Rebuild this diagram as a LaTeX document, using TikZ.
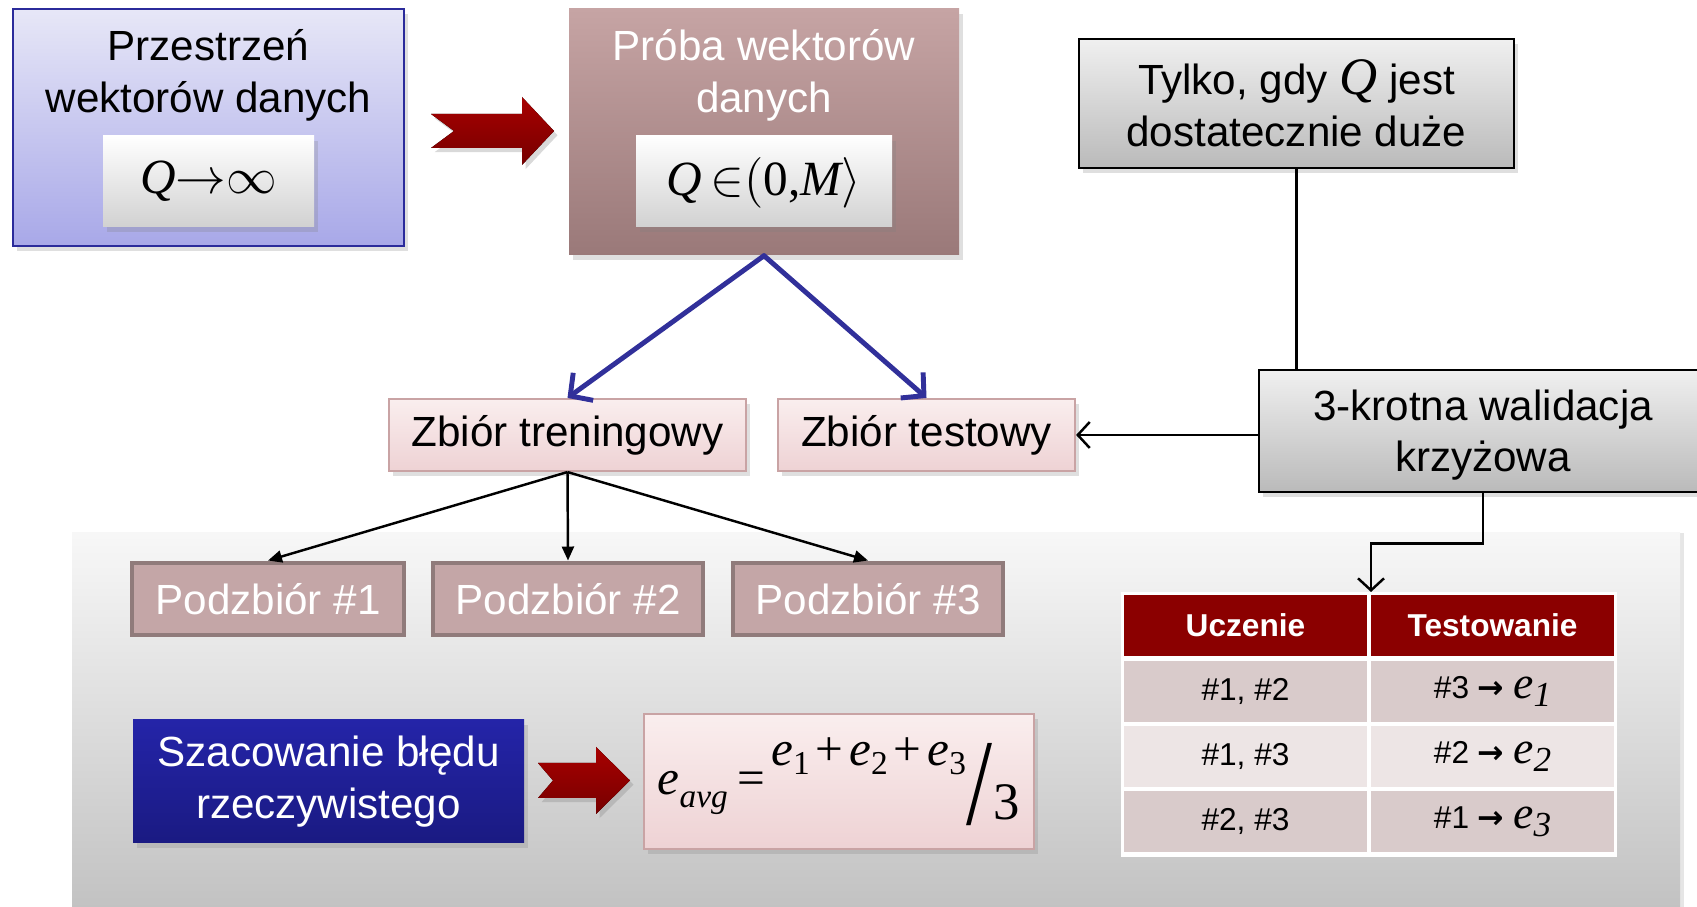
\documentclass[tikz,border=0pt]{standalone}
\usepackage{fontspec}
\setmainfont{Liberation Sans}
\newfontfamily\tms{Liberation Serif}
\newfontfamily\djv{DejaVu Sans}
\usepackage{graphicx}
\usetikzlibrary{positioning,arrows.meta,shadows}
\definecolor{spacetop}{RGB}{231,231,247}
\definecolor{spacebot}{RGB}{168,168,232}
\definecolor{spaceline}{RGB}{43,43,155}
\definecolor{sampletop}{RGB}{198,164,164}
\definecolor{samplebot}{RGB}{154,121,121}
\definecolor{pinktop}{RGB}{250,238,238}
\definecolor{pinkbot}{RGB}{238,210,212}
\definecolor{pinkline}{RGB}{201,163,164}
\definecolor{subfill}{RGB}{196,166,167}
\definecolor{subline}{RGB}{144,123,123}
\definecolor{esttop}{RGB}{36,36,168}
\definecolor{estbot}{RGB}{26,26,130}
\definecolor{darkred}{RGB}{139,0,0}
\definecolor{arrowtop}{RGB}{168,0,0}
\definecolor{arrowbot}{RGB}{118,0,0}
\definecolor{rowdark}{RGB}{217,203,203}
\definecolor{rowlight}{RGB}{237,229,229}
\definecolor{splitblue}{RGB}{49,48,154}
\newcommand\ti[1]{{\tms\itshape #1}}
\newcommand\toarr{{\djv\bfseries →}}

\begin{document}
\begin{tikzpicture}[x=1cm,y=1cm,>=Latex]
  \tikzset{
    box/.style={rectangle,inner sep=0pt,align=center,font=\fontsize{12}{14.7}\selectfont},
    soft/.style={drop shadow={shadow xshift=1.2pt,shadow yshift=-1.5pt,opacity=0.25}},
    spacebox/.style={box,soft,top color=spacetop,bottom color=spacebot,draw=spaceline,line width=0.8pt},
    samplebox/.style={box,soft,top color=sampletop,bottom color=samplebot},
    mathbox/.style={box,soft,top color=white,bottom color=black!18,font=\tms\fontsize{14}{17}\selectfont},
    graybox/.style={box,soft,top color=black!6,bottom color=black!27,draw=black,line width=0.8pt},
    pinkbox/.style={box,soft,top color=pinktop,bottom color=pinkbot,draw=pinkline,line width=0.6pt},
    subbox/.style={box,fill=subfill,draw=subline,line width=1.4pt,text=white},
    estbox/.style={box,soft,top color=esttop,bottom color=estbot,text=white},
    title/.style={box},
    cell/.style={rectangle,inner sep=0pt,minimum width=2.43cm,minimum height=0.61cm,font=\fontsize{9}{11}\selectfont},
    headcell/.style={cell,fill=darkred,text=white,font=\bfseries\fontsize{9}{11}\selectfont},
    bigarrow/.style={top color=arrowtop,bottom color=arrowbot,
      drop shadow={shadow xshift=1pt,shadow yshift=-1.2pt,opacity=0.3}},
    split/.style={draw=splitblue,line width=1.4pt,line cap=round,
      -{Straight Barb[length=1.6mm,width=3.4mm,line width=1.4pt]}},
    feed/.style={draw=black,line width=0.7pt,-{Triangle[length=1.4mm,width=1.2mm]}},
    link/.style={draw=black,line width=0.7pt},
    linkto/.style={link,-{Straight Barb[length=1.2mm,width=2.6mm]}},
  }
  \useasboundingbox (0,0) rectangle (16.97,9.07);

  % grey panel behind the folds
  \path[top color=black!3,bottom color=black!25,
    drop shadow={shadow xshift=1pt,shadow yshift=0pt,opacity=0.2}]
    (0.72,3.74) rectangle (16.80,-0.2);

  % top row
  \node[spacebox,minimum width=3.91cm,minimum height=2.37cm] (space) at (2.085,7.795) {};
  \node[title] (spacettl) at (2.085,8.315) {Przestrzeń\\wektorów danych};
  \node[mathbox,minimum width=2.11cm,minimum height=0.91cm] (spacemath) at (2.085,7.255)
    {\ti{Q}$\rightarrow$$\infty$};

  \fill[bigarrow] (4.31,7.93) -- (5.22,7.93) -- (5.22,8.10) -- (5.54,7.76) -- (5.22,7.42)
    -- (5.22,7.59) -- (4.31,7.59) -- (4.54,7.76) -- cycle;

  \node[samplebox,minimum width=3.90cm,minimum height=2.46cm] (sample) at (7.64,7.75) {};
  \node[title,text=white] (samplettl) at (7.64,8.315) {Próba wektorów\\danych};
  \node[mathbox,minimum width=2.56cm,minimum height=0.91cm] (samplemath) at (7.64,7.255)
    {\ti{Q}\,$\in$$\Big($0,\ti{M}$\Big\rangle$};

  \node[graybox,minimum width=4.35cm,minimum height=1.29cm] (cond) at (12.965,8.035)
    {Tylko, gdy {\fontsize{15}{15}\selectfont\ti{Q}} jest\\dostatecznie duże};
  \node[graybox,minimum width=4.41cm,minimum height=1.22cm] (cv) at (14.795,4.76) {};
  \node[title] (cvttl) at (14.83,4.72) {3-krotna walidacja\\krzyżowa};

  % split of the sample
  \node[pinkbox,minimum width=3.57cm,minimum height=0.72cm] (train) at (5.675,4.72) {Zbiór treningowy};
  \node[pinkbox,minimum width=2.97cm,minimum height=0.72cm] (test) at (9.265,4.72) {Zbiór testowy};

  \draw[split] (sample.south) -- (train.north);
  \draw[split] (sample.south) -- (test.north);
  \draw[link] (cond.south) -- (cond.south |- cv.north);
  \draw[linkto] (cv.west |- test.east) -- (test.east);

  % folds
  \node[subbox,minimum width=2.72cm,minimum height=0.72cm] (sub1) at (2.68,3.08) {Podzbiór \#1};
  \node[subbox,minimum width=2.70cm,minimum height=0.72cm] (sub2) at (5.68,3.08) {Podzbiór \#2};
  \node[subbox,minimum width=2.70cm,minimum height=0.72cm] (sub3) at (8.68,3.08) {Podzbiór \#3};

  \draw[feed] (train.south) -- (sub1.north);
  \draw[feed] (train.south) -- (sub2.north);
  \draw[feed] (train.south) -- (sub3.north);

  % error estimate
  \node[estbox,minimum width=3.91cm,minimum height=1.23cm] (est) at (3.285,1.255)
    {Szacowanie błędu\\rzeczywistego};
  \fill[bigarrow] (5.38,1.44) -- (5.96,1.44) -- (5.96,1.60) -- (6.30,1.265) -- (5.96,0.93)
    -- (5.96,1.09) -- (5.38,1.09) -- (5.53,1.265) -- cycle;
  \node[pinkbox,minimum width=3.90cm,minimum height=1.35cm,font=\tms\fontsize{14}{17}\selectfont] (avg) at (8.39,1.255)
    {\ti{e}\raisebox{-0.55ex}{\fontsize{9.5}{10}\selectfont\ti{avg}}\hspace{0.2em}=\hspace{0.12em}%
     \raisebox{0.6em}{\ti{e}\raisebox{-0.4ex}{\fontsize{9.5}{10}\selectfont 1}\hspace{0.12em}+\hspace{0.12em}%
     \ti{e}\raisebox{-0.4ex}{\fontsize{9.5}{10}\selectfont 2}\hspace{0.12em}+\hspace{0.12em}%
     \ti{e}\raisebox{-0.4ex}{\fontsize{9.5}{10}\selectfont 3}}\hspace{0.02em}%
     \raisebox{-0.6em}{\scalebox{1.9}[2.5]{/}}\hspace{0.02em}\raisebox{-0.5em}{\fontsize{15}{17}\selectfont 3}};

  % table of folds
  \fill[white] (11.21,3.15) rectangle (16.17,0.50);
  \node[headcell] (h1) at (12.455,2.815) {Uczenie};
  \node[headcell] (h2) at (14.925,2.815) {Testowanie};
  \node[cell,fill=rowdark] (a1) at (12.455,2.155) {\#1, \#2};
  \node[cell,fill=rowdark] (b1) at (14.925,2.155)
    {\#3 \toarr\ {\fontsize{13}{13}\selectfont\ti{e}}\raisebox{-0.5ex}{\fontsize{10}{10}\selectfont\ti{1}}};
  \node[cell,fill=rowlight] (a2) at (12.455,1.505) {\#1, \#3};
  \node[cell,fill=rowlight] (b2) at (14.925,1.505)
    {\#2 \toarr\ {\fontsize{13}{13}\selectfont\ti{e}}\raisebox{-0.5ex}{\fontsize{10}{10}\selectfont\ti{2}}};
  \node[cell,fill=rowdark] (a3) at (12.455,0.855) {\#2, \#3};
  \node[cell,fill=rowdark] (b3) at (14.925,0.855)
    {\#1 \toarr\ {\fontsize{13}{13}\selectfont\ti{e}}\raisebox{-0.5ex}{\fontsize{10}{10}\selectfont\ti{3}}};
  \coordinate (tabin) at (13.71,3.15);

  \draw[linkto] (cv.south) ++(0.035,0) -- ++(0,-0.5) -| (tabin);
\end{tikzpicture}
\end{document}
